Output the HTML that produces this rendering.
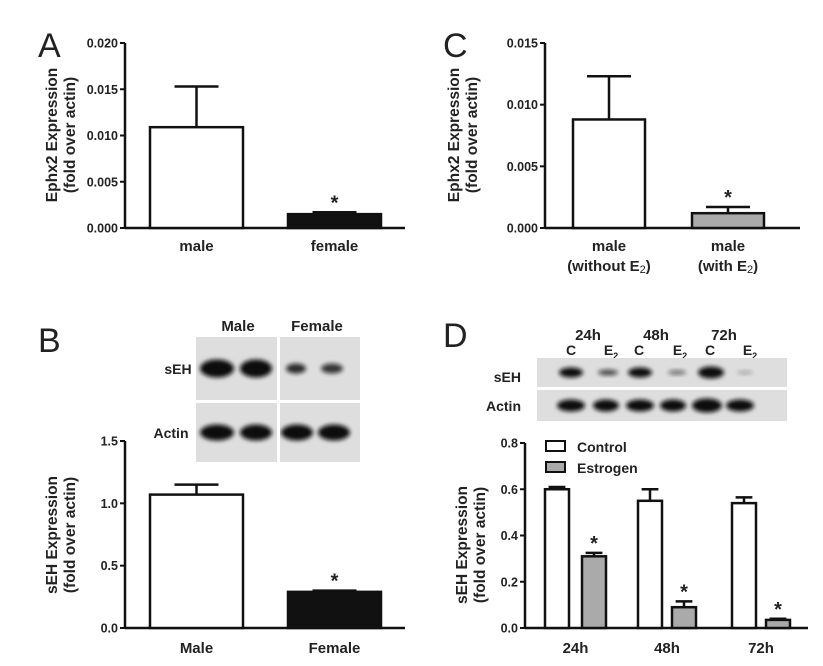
<!DOCTYPE html>
<html><head><meta charset="utf-8">
<style>
html,body{margin:0;padding:0;background:#fff;}
svg{display:block;font-family:"Liberation Sans",Arial,sans-serif;}
.t{font-weight:bold;fill:#222;}
</style></head>
<body>
<svg id="fig" width="823" height="666" viewBox="0 0 823 666" xmlns="http://www.w3.org/2000/svg">
<defs><filter id="blur" x="-20%" y="-50%" width="140%" height="200%"><feGaussianBlur stdDeviation="2.2"/></filter></defs>
</svg>
<script>
// ---- data ----
const panelA_categories=["male","female"];
const panelA_values=[0.0109,0.0015];
const panelA_errors=[0.0153,0.0017];
const panelA_ticks=["0.000","0.005","0.010","0.015","0.020"];
const panelC_categories=[["male","(without E","2",")"],["male","(with E","2",")"]];
const panelC_values=[0.0088,0.0012];
const panelC_errors=[0.0123,0.0017];
const panelC_ticks=["0.000","0.005","0.010","0.015"];
const panelB_categories=["Male","Female"];
const panelB_values=[1.07,0.29];
const panelB_errors=[1.15,0.30];
const panelB_ticks=["0.0","0.5","1.0","1.5"];
const panelD_categories=["24h","48h","72h"];
const panelD_control=[0.60,0.55,0.54];
const panelD_controlErr=[0.61,0.60,0.565];
const panelD_estrogen=[0.31,0.09,0.035];
const panelD_estrogenErr=[0.325,0.115,0.04];
const panelD_ticks=["0.0","0.2","0.4","0.6","0.8"];

const svg=document.getElementById('fig');
const NS='http://www.w3.org/2000/svg';
function mk(tag,at,parent){const e=document.createElementNS(NS,tag);for(const k in at)e.setAttribute(k,at[k]);(parent||svg).appendChild(e);return e;}
function txt(s,x,y,size,anchor,parent,extra){const e=mk('text',Object.assign({x:x,y:y,'font-size':size,'text-anchor':anchor||'middle',class:'t'},extra||{}),parent);e.textContent=s;return e;}

function axis(g,x0,yTop,yBot,xEnd,ticks,maxV){
  const sy=v=>yBot-(v/maxV)*(yBot-yTop);
  const ax=mk('line',{x1:x0,y1:yTop,x2:x0,y2:yBot,stroke:'#111','stroke-width':2.5},g);
  
  const bx=mk('line',{x1:x0,y1:yBot,x2:xEnd,y2:yBot,stroke:'#111','stroke-width':2.5},g);
  
  ticks.forEach((t,i)=>{const v=maxV*i/(ticks.length-1);const y=sy(v);
    mk('line',{x1:x0-5,y1:y,x2:x0,y2:y,stroke:'#111','stroke-width':2},g);
    const tl=txt(t,x0-7,y+4.5,12.5,'end',g);
    });
  return sy;
}
function bar(g,x,w,v,err,sy,yBot,fill,name){
  const y=sy(v);
  const r=mk('rect',{x:x,y:y,width:w,height:yBot-y,fill:fill,stroke:'#111','stroke-width':2.5},g);
  
  const ey=sy(err),cx=x+w/2,cap=Math.min(w*0.35,22);
  const e1=mk('line',{x1:cx,y1:y,x2:cx,y2:ey,stroke:'#111','stroke-width':2.5},g);
  
  mk('line',{x1:cx-cap,y1:ey,x2:cx+cap,y2:ey,stroke:'#111','stroke-width':2.5},g);
  return {cx:cx,ey:ey};
}
function star(g,x,y){const s=txt('*',x,y+2,20,'middle',g,{fill:'#777'});}
function ytitle(g,cx,cy,l1,l2){
  const t=mk('g',{transform:`translate(${cx},${cy}) rotate(-90)`},g);
  
  txt(l1,0,-3,15.5,'middle',t);txt(l2,0,15,15.5,'middle',t);
}
function letter(s,x,y){const l=txt(s,x,y,34,'start',svg,{style:'font-weight:normal',fill:'#111'});}

// ---- Panel A ----
(function(){const g=mk('g',{});
letter('A',38,57);
const sy=axis(g,125,43,228,405,panelA_ticks,0.020);
const xs=[150,288],fills=['#fff','#111'];
panelA_values.forEach((v,i)=>{const b=bar(g,xs[i],93,v,panelA_errors[i],sy,228,fills[i],'bar-'+panelA_categories[i]);
  const l=txt(panelA_categories[i],b.cx,251,15,'middle',g);
  if(i==1)star(g,b.cx,b.ey-5);});
ytitle(g,60,135,'Ephx2 Expression','(fold over actin)');})();

// ---- Panel C ----
(function(){const g=mk('g',{});
letter('C',443,57);
const sy=axis(g,545,43,228,800,panelC_ticks,0.015);
const xs=[573,692],fills=['#fff','#aaa'];
panelC_values.forEach((v,i)=>{const b=bar(g,xs[i],72,v,panelC_errors[i],sy,228,fills[i],'bar-'+(i?'with-e2':'without-e2'));
  const l1=txt(panelC_categories[i][0],b.cx,251,15,'middle',g);
  const l2=txt(panelC_categories[i][1],b.cx,271,15,'middle',g);
  const s=mk('tspan',{'font-size':11,dy:2,style:'font-weight:normal'},l2);s.textContent=panelC_categories[i][2];
  const s2=mk('tspan',{dy:-2},l2);s2.textContent=panelC_categories[i][3];
  if(i==1)star(g,b.cx,b.ey-5);});
ytitle(g,462,135,'Ephx2 Expression','(fold over actin)');})();

// ---- blots ----
function blot(g,x,y,w,h,bands,name){
  const bg=mk('rect',{x:x,y:y,width:w,height:h,fill:'#dedede'},g);
  
  bands.forEach(b=>mk('ellipse',{cx:b[0],cy:y+h/2,rx:b[1],ry:b[2],fill:'#111',opacity:b[3],filter:'url(#blur)'},g));
}
// ---- Panel B ----
(function(){const g=mk('g',{});
letter('B',38,352);
txt('Male',238,331,15,'middle',g);txt('Female',317,331,15,'middle',g);
blot(g,196,337,164,63,[[217,17,9,1],[256,16,9,1],[296,10,5,.85],[332,11,5,.8]],'seh-blot');
blot(g,196,403,164,59,[[217,17,8,1],[256,16,8,1],[297,16,8,1],[334,16,8,1]],'actin-blot');
mk('rect',{x:277,y:335,width:3,height:130,fill:'#fff'},g);
txt('sEH',178,374,14,'middle',g);txt('Actin',171,438,14,'middle',g);
const sy=axis(g,125,441,628,405,panelB_ticks,1.5);
const xs=[150,288],fills=['#fff','#111'];
panelB_values.forEach((v,i)=>{const b=bar(g,xs[i],93,v,panelB_errors[i],sy,628,fills[i],'bar-'+panelB_categories[i].toLowerCase());
  const l=txt(panelB_categories[i],b.cx,653,15,'middle',g);
  if(i==1)star(g,b.cx,b.ey-5);});
ytitle(g,60,535,'sEH Expression','(fold over actin)');})();

// ---- Panel D ----
(function(){const g=mk('g',{});
letter('D',443,347);
['24h','48h','72h'].forEach((t,i)=>txt(t,588+i*68,340,15,'middle',g));
[571,611,639,680,710,750].forEach((x,i)=>{if(i%2==0)txt('C',x,355,14,'middle',g);else{const e=txt('E',x,355,14,'middle',g);const s=mk('tspan',{'font-size':9,dy:4},e);s.textContent='2';}});
blot(g,537,358,250,29,[[571,12,5,1],[608,10,3,.7],[640,12,5,1],[677,9,2.5,.5],[711,13,6,1],[745,8,2,.25]],'seh-blot-d');
blot(g,537,390,250,31,[[571,14,6,1],[606,13,6,1],[640,14,6,1],[673,13,6,1],[707,15,7,1],[740,14,6,1]],'actin-blot-d');
txt('sEH',521,382,14,'end',g);txt('Actin',521,411,14,'end',g);
const sy=axis(g,525,443,628,808,panelD_ticks,0.8);
const cx=[545,638,732],ex=[582,672,766];
panelD_categories.forEach((c,i)=>{
  bar(g,cx[i],24,panelD_control[i],panelD_controlErr[i],sy,628,'#fff','bar-control-'+c);
  const b=bar(g,ex[i],24,panelD_estrogen[i],panelD_estrogenErr[i],sy,628,'#aaa','bar-estrogen-'+c);
  star(g,b.cx,b.ey-5);
  const l=txt(c,(cx[i]+ex[i]+24)/2,653,15,'middle',g);});
const lg=mk('g',{},g);
mk('rect',{x:546,y:441,width:19,height:10,fill:'#fff',stroke:'#111','stroke-width':2},lg);
txt('Control',577,452,14,'start',lg);
mk('rect',{x:546,y:462,width:19,height:10,fill:'#aaa',stroke:'#111','stroke-width':2},lg);
txt('Estrogen',577,473,14,'start',lg);
ytitle(g,470,545,'sEH Expression','(fold over actin)');})();
</script>
</body></html>
